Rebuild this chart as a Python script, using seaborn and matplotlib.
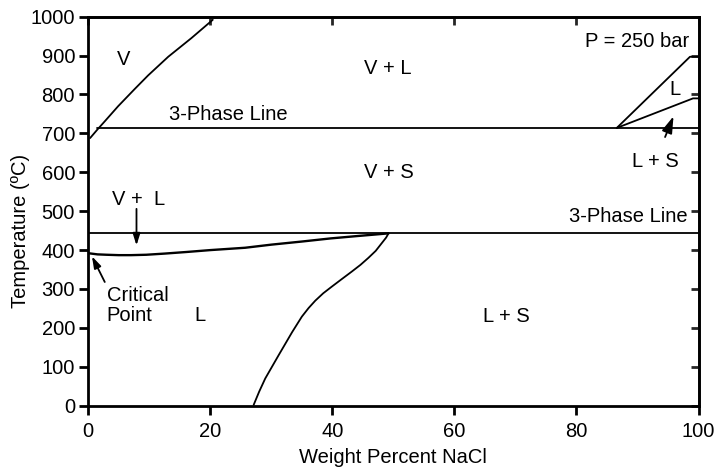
import matplotlib
matplotlib.use("Agg")
import matplotlib.pyplot as plt
import seaborn as sns
import pandas as pd

# ---- data ----
v_curve_x = [0.3, 1.5, 2.7, 4.9, 7.6, 9.8, 13.1, 16.9, 20.4]
v_curve_t = [688, 710, 731, 770, 814, 849, 897, 945, 992]

vl_curve_x = [0.0, 1.5, 3.0, 5.0, 7.0, 9.5, 12.5, 16.0, 20.0, 25.7, 30.0, 35.0, 39.7, 44.0, 47.0, 49.2]
vl_curve_t = [392, 389, 388, 387, 387, 388, 391, 395, 400, 406, 414, 422, 430, 436, 440, 443]

liq_x = [27.1, 28.0, 29.0, 31.2, 33.4, 35.0, 36.1, 37.2, 38.5, 39.9, 41.5, 43.2, 44.6, 45.9, 47.1, 48.1, 48.8, 49.2]
liq_t = [2, 36, 70, 130, 189, 229, 251, 270, 289, 306, 325, 345, 362, 380, 398, 418, 432, 443]

l_upper_x = [86.6, 98.6, 100.0]
l_upper_t = [714, 897, 897]
l_lower_x = [86.6, 99.1, 100.0]
l_lower_t = [714, 790, 790]

three_phase_hi_x = [1.5, 100.0]
three_phase_hi_t = [714, 714]
three_phase_lo_x = [0.0, 100.0]
three_phase_lo_t = [444, 444]

x_ticks = [0, 20, 40, 60, 80, 100]
y_ticks = [0, 100, 200, 300, 400, 500, 600, 700, 800, 900, 1000]

sns.set_style("ticks")
plt.rcParams['font.family'] = ['Liberation Sans', 'DejaVu Sans']
plt.rcParams['text.color'] = 'black'
plt.rcParams['axes.labelcolor'] = 'black'

fig = plt.figure(figsize=(7.16, 4.69), dpi=100)
ax = fig.add_axes([0.1233, 0.135, 0.8523, 0.8294])

curves = [
    (v_curve_x, v_curve_t, 1.3),
    (vl_curve_x, vl_curve_t, 1.7),
    (liq_x, liq_t, 1.3),
    (l_upper_x, l_upper_t, 1.3),
    (l_lower_x, l_lower_t, 1.3),
    (three_phase_hi_x, three_phase_hi_t, 1.3),
    (three_phase_lo_x, three_phase_lo_t, 1.3),
]
for cx, ct, lw in curves:
    df = pd.DataFrame({"x": cx, "t": ct})
    sns.lineplot(data=df, x="x", y="t", sort=False, estimator=None,
                 color="black", linewidth=lw, ax=ax)

ax.set_xlim(0, 100)
ax.set_ylim(0, 1000)
ax.set_xticks(x_ticks)
ax.set_yticks(y_ticks)
ax.set_xticklabels([str(v) for v in x_ticks])
ax.set_yticklabels([str(v) for v in y_ticks])

fs = 14.5
for s in ax.spines.values():
    s.set_visible(True)
    s.set_linewidth(2.0)
    s.set_color("black")
ax.tick_params(axis="both", direction="out", length=6.5, width=2.0,
               labelsize=fs, colors="black")
ax.tick_params(axis="x", pad=5)
ax.tick_params(axis="y", pad=3)

sec_y = ax.secondary_yaxis("right")
sec_y.set_yticks(y_ticks)
sec_y.tick_params(direction="in", length=5.5, width=2.0, labelright=False)
sec_y.spines["right"].set_linewidth(2.0)
sec_x = ax.secondary_xaxis("top")
sec_x.set_xticks(x_ticks)
sec_x.tick_params(direction="in", length=5.5, width=2.0, labeltop=False)
sec_x.spines["top"].set_linewidth(2.0)

ax.set_xlabel("Weight Percent NaCl", fontsize=fs, labelpad=5, color="black")
ax.set_ylabel("Temperature (ºC)", fontsize=fs, color="black")
ax.yaxis.set_label_coords(-0.095, 0.45)

def label(x, y, s, ha="center"):
    ax.text(x, y, s, fontsize=fs, ha=ha, va="center", color="black")

label(5.8, 889, "V")
label(49.1, 868, "V + L")
label(22.9, 748, "3-Phase Line")
label(49.3, 599, "V + S")
label(98.2, 487, "3-Phase Line", ha="right")
label(98.4, 936, "P = 250 bar", ha="right")
label(96.1, 812, "L")
label(8.2, 530, "V +  L")
label(18.3, 231, "L")
label(68.5, 230, "L + S")
ax.text(3.0, 258, "Critical\nPoint", fontsize=fs, ha="left", va="center",
        linespacing=1.1, color="black")

arrow = dict(arrowstyle="-|>,head_length=0.7,head_width=0.22", color="black",
             lw=1.3, shrinkA=0, shrinkB=0)
ax.annotate("L + S", xy=(95.9, 744), xytext=(92.9, 628), fontsize=fs,
            ha="center", va="center", color="black",
            arrowprops=dict(arrow, shrinkA=9))
ax.annotate("", xy=(7.9, 412), xytext=(7.9, 506), arrowprops=arrow)
ax.annotate("", xy=(0.6, 384), xytext=(2.7, 318), arrowprops=arrow)

fig.savefig("out.png", dpi=100)
